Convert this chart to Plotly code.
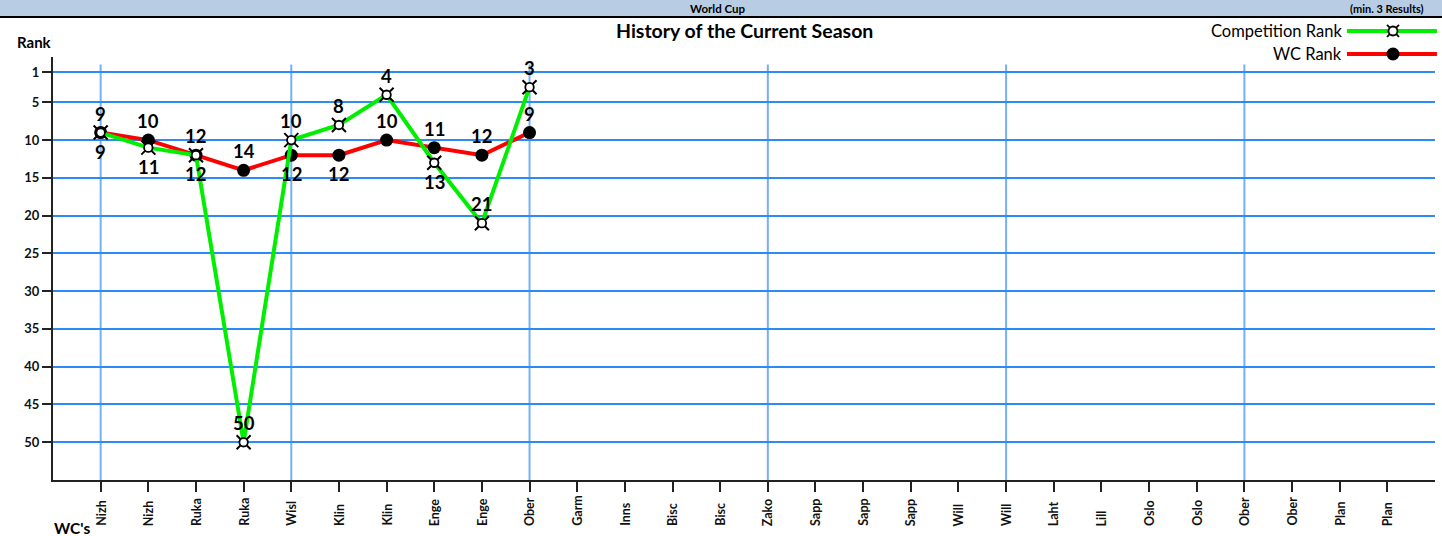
import plotly.graph_objects as go

# World Cup venues of the season (x axis categories)
venues = ["Nizh", "Nizh", "Ruka", "Ruka", "Wisl", "Klin", "Klin", "Enge", "Enge", "Ober",
          "Garm", "Inns", "Bisc", "Bisc", "Zako", "Sapp", "Sapp", "Sapp", "Will", "Will",
          "Laht", "Lill", "Oslo", "Oslo", "Ober", "Ober", "Plan", "Plan"]

# Ranks of the competitions held so far
competition_rank = [9, 11, 12, 50, 10, 8, 4, 13, 21, 3]
wc_rank = [9, 10, 12, 14, 12, 12, 10, 11, 12, 9]

# Label side for each point (1 = above, -1 = below)
comp_label_side = [-1, -1, -1, 1, 1, 1, 1, -1, 1, 1]
wc_label_side = [1, 1, 1, 1, -1, -1, 1, 1, 1, 1]

y_ticks = [1, 5, 10, 15, 20, 25, 30, 35, 40, 45, 50]

FONT = "Lato"
GREEN = "#00ee00"
RED = "#ff0000"

xpos_all = list(range(1, len(venues) + 1))
xc = xpos_all[:len(competition_rank)]
xw = xpos_all[:len(wc_rank)]

fig = go.Figure()

# WC rank line with black dots
fig.add_trace(go.Scatter(x=xw, y=wc_rank, mode="lines+markers",
                         line=dict(color=RED, width=4),
                         marker=dict(color="black", size=13),
                         showlegend=False, hoverinfo="skip"))

# Competition rank line
fig.add_trace(go.Scatter(x=xc, y=competition_rank, mode="lines",
                         line=dict(color=GREEN, width=4),
                         showlegend=False, hoverinfo="skip"))
# Currency-sign style marker: diagonal spikes + small ring
fig.add_trace(go.Scatter(x=xc, y=competition_rank, mode="markers",
                         marker=dict(symbol="x-thin-open", size=14, color="black",
                                     line=dict(color="black", width=2)),
                         showlegend=False, hoverinfo="skip"))
fig.add_trace(go.Scatter(x=xc, y=competition_rank, mode="markers",
                         marker=dict(symbol="circle", size=8.5, color="white",
                                     line=dict(color="black", width=1.8)),
                         showlegend=False, hoverinfo="skip"))

# Value labels
for xs, ys, sides in ((xc, competition_rank, comp_label_side), (xw, wc_rank, wc_label_side)):
    for x, y, s in zip(xs, ys, sides):
        fig.add_annotation(x=x, y=y, text=str(y), showarrow=False,
                           yshift=19 * s,
                           font=dict(family=FONT, size=18.5, color="black", weight="bold"))

# Category labels, rotated and aligned on their first letter
for x, name in zip(xpos_all, venues):
    fig.add_annotation(x=x, xref="x", yref="paper", y=-0.1135, text=name,
                       textangle=-90, showarrow=False, xanchor="center", yanchor="bottom",
                       font=dict(family=FONT, size=12.5, color="#111111", weight="bold"))

# Vertical grid lines at the first category and every fifth one
grid_x = [1] + list(range(5, len(venues) + 1, 5))
for gx in grid_x:
    fig.add_shape(type="line", xref="x", yref="y", x0=gx, x1=gx, y0=0, y1=55,
                  line=dict(color="#74b0f7", width=2), layer="below")

# Header band
fig.add_shape(type="rect", xref="paper", yref="paper", x0=-0.04, x1=1.006,
              y0=1.0946, y1=1.14, fillcolor="#b8cce4", line=dict(width=0), layer="below")
fig.add_shape(type="line", xref="paper", yref="paper", x0=-0.04, x1=1.006,
              y0=1.0946, y1=1.0946, line=dict(color="black", width=2))

def paper_text(x, y, text, size, bold=True, xanchor="center"):
    fig.add_annotation(xref="paper", yref="paper", x=x, y=y, text=text,
                       xanchor=xanchor, yanchor="middle", showarrow=False,
                       font=dict(family=FONT, size=size, color="black",
                                 weight="bold" if bold else "normal"))

paper_text(0.4805, 1.1158, "World Cup", 11.5)
paper_text(0.9935, 1.1158, "(min. 3 Results)", 11, xanchor="right")
paper_text(0.5, 1.0615, "History of the Current Season", 19.5)
paper_text(-0.0137, 1.0355, "Rank", 15)
paper_text(0.0137, -0.1135, "WC's", 15.5)

# Legend (text on the left, sample line on the right)
legend_items = [("Competition Rank", GREEN, 1.0615, "comp"), ("WC Rank", RED, 1.0071, "wc")]
for label, color, ly, kind in legend_items:
    paper_text(0.9342, ly, label, 16.5, bold=False, xanchor="right")
    fig.add_shape(type="line", xref="paper", yref="paper", x0=0.9363, x1=1.0014,
                  y0=ly, y1=ly, line=dict(color=color, width=4))
    common = dict(xref="paper", yref="paper", xsizemode="pixel", ysizemode="pixel",
                  xanchor=0.9696, yanchor=ly)
    if kind == "comp":
        fig.add_shape(type="line", x0=-6, x1=6, y0=-6, y1=6,
                      line=dict(color="black", width=1.8), **common)
        fig.add_shape(type="line", x0=-6, x1=6, y0=6, y1=-6,
                      line=dict(color="black", width=1.8), **common)
        fig.add_shape(type="circle", x0=-4.5, x1=4.5, y0=-4.5, y1=4.5, fillcolor="white",
                      line=dict(color="black", width=1.8), **common)
    else:
        fig.add_shape(type="circle", x0=-6.5, x1=6.5, y0=-6.5, y1=6.5, fillcolor="black",
                      line=dict(color="black", width=0), **common)

fig.update_xaxes(range=[0, len(venues) + 1], tickmode="array", tickvals=xpos_all,
                 showticklabels=False, showgrid=False, zeroline=False,
                 showline=True, linecolor="#222222", linewidth=2,
                 ticks="outside", ticklen=10, tickwidth=1.5, tickcolor="#222222")
fig.update_yaxes(range=[55, -1], tickmode="array", tickvals=y_ticks,
                 showgrid=True, gridcolor="#2d8bf5", gridwidth=1.5, zeroline=False,
                 showline=True, linecolor="#222222", linewidth=2,
                 ticks="outside", ticklen=9, tickwidth=1.5, tickcolor="#222222",
                 tickfont=dict(family=FONT, size=13, color="#111111", weight="bold"))

fig.update_layout(width=1442, height=536, margin=dict(l=53, r=7, t=57, b=56),
                  paper_bgcolor="white", plot_bgcolor="white", showlegend=False)

fig.write_html("out.html")
